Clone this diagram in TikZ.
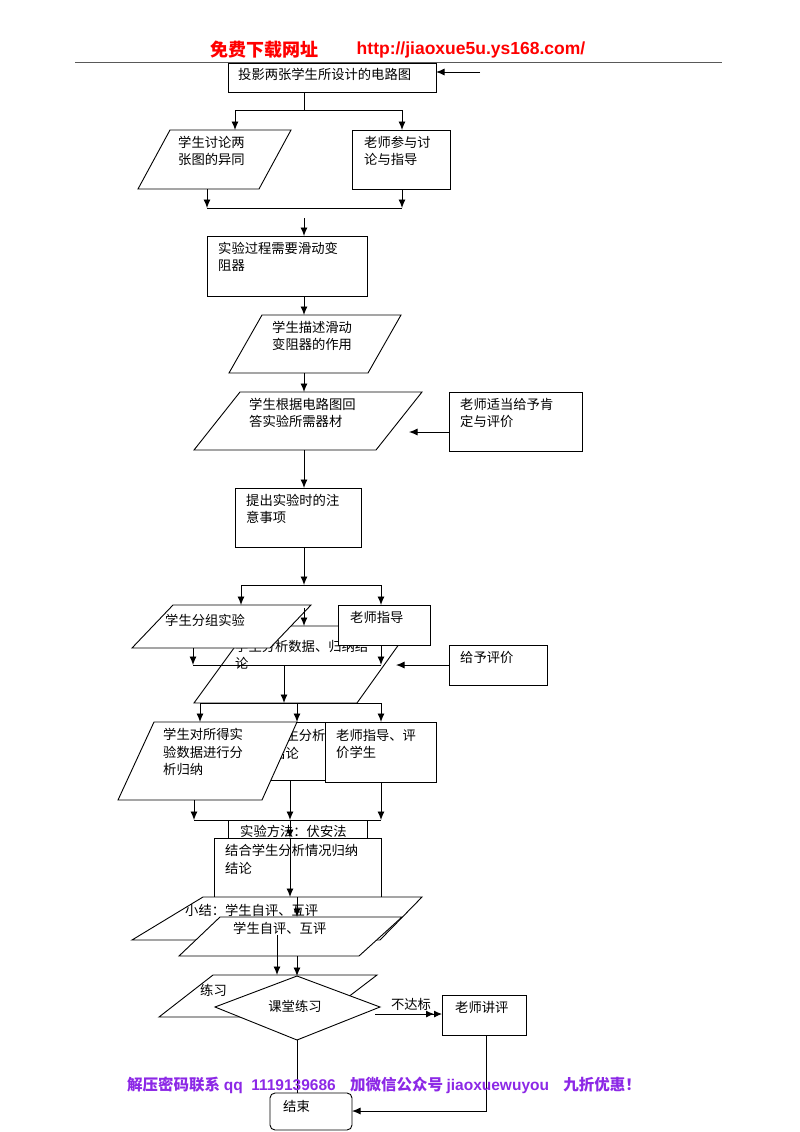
\documentclass[tikz,border=0pt]{standalone}
\usepackage{fontspec}
\newfontfamily\cjk{Noto Sans CJK SC}
\newfontfamily\lat{Liberation Sans}
\usetikzlibrary{arrows.meta}
\definecolor{footpurple}{RGB}{140,40,230}
\begin{document}
\begin{tikzpicture}[x=1pt,y=-1pt,
  shp/.style={draw=black,fill=white,line width=0.9pt},
  t/.style={anchor=north west,inner sep=0pt,align=left,font=\cjk\fontsize{13.3}{17.5}\selectfont},
  ar/.style={-{Latex[length=8.5pt,width=7pt]},line width=0.9pt},
  ln/.style={line width=0.9pt}]
\useasboundingbox (0,0) rectangle (800,1132);
% header
\node[font=\cjk\bfseries\fontsize{18}{20}\selectfont,text=red] (h1) at (264,50) {免费下载网址};
\node[font=\lat\bfseries\fontsize{17.5}{20}\selectfont,text=red] (h2) at (471,50) {http://jiaoxue5u.ys168.com/};
\draw[line width=0.8pt,gray!70!black] (75,62) -- (722,62);
% top
\draw[shp] (228,63) rectangle (436,92);
\node[t] (b1) at (238,68) {投影两张学生所设计的电路图};
\draw[shp] (170,130)--(291,130)--(259,189)--(138,189)--cycle;
\node[t] (p1) at (178,136) {学生讨论两\\张图的异同};
\draw[shp] (352,130) rectangle (450,189);
\node[t] (b2) at (364,136) {老师参与讨\\论与指导};
\draw[shp] (207,236) rectangle (367,296);
\node[t] (b3) at (218,242) {实验过程需要滑动变\\阻器};
\draw[shp] (262,315)--(401,315)--(368,373)--(229,373)--cycle;
\node[t] (p2) at (272,321) {学生描述滑动\\变阻器的作用};
\draw[shp] (240,392)--(422,392)--(376,450)--(194,450)--cycle;
\node[t] (p3) at (249,398) {学生根据电路图回\\答实验所需器材};
\draw[shp] (449,392) rectangle (582,451);
\node[t] (b4) at (460,398) {老师适当给予肯\\定与评价};
\draw[shp] (235,488) rectangle (361,547);
\node[t] (b5) at (246,494) {提出实验时的注\\意事项};
% middle overlapped
\draw[shp] (250,626)--(412,626)--(357,703)--(194,703)--cycle;
\node[t] (p4) at (235,640) {学生分析数据、归纳结\\论};
\draw[shp] (173,605)--(311,605)--(270,648)--(132,648)--cycle;
\node[t] (p5) at (165,614) {学生分组实验};
\draw[shp] (338,605) rectangle (430,645);
\node[t] (b6) at (350,611) {老师指导};
\draw[shp] (449,645) rectangle (547,685);
\node[t] (b7) at (460,651) {给予评价};
\draw[shp] (250,722) rectangle (330,780);
\node[t] (b8) at (272,729) {学生分析\\结论};
\draw[shp] (154,722)--(297,722)--(262,800)--(118,800)--cycle;
\node[t] (p6) at (163,728) {学生对所得实\\验数据进行分\\析归纳};
\draw[shp] (325,722) rectangle (436,782);
\node[t] (b9) at (336,729) {老师指导、评\\价学生};
% lower
\draw[shp] (228,820) rectangle (367,850);
\node[t] (b10) at (240,825) {实验方法：伏安法};
\draw[shp] (214,838) rectangle (381,897);
\node[t] (b11) at (225,844) {结合学生分析情况归纳\\结论};
\draw[shp] (203,897)--(422,897)--(380,940)--(132,940)--cycle;
\node[t] (p7) at (185,904) {小结：学生自评、互评};
\draw[shp] (220,917)--(402,917)--(359,956)--(179,956)--cycle;
\node[t] (p8) at (233,922) {学生自评、互评};
\draw[shp] (213,975)--(377,975)--(322,1017)--(159,1017)--cycle;
\node[t] (p9) at (200,984) {练习};
\draw[shp] (297,976)--(380,1007)--(297,1040)--(215,1007)--cycle;
\node[font=\cjk\fontsize{13.3}{15}\selectfont] (d1) at (295,1006) {课堂练习};
\draw[shp] (442,995) rectangle (526,1035);
\node[t] (b12) at (455,1001) {老师讲评};
\draw[shp,rounded corners=5pt] (270,1093) rectangle (352,1130);
\node[t] (e1) at (283,1100) {结束};
\node[font=\cjk\fontsize{13.3}{15}\selectfont] (l1) at (411,1004) {不达标};
% connectors
\coordinate (s0) at (480,72);
\draw[ar] (s0) -- (436,72);
\draw[ln] (304,92) -- (304,110);
\draw[ln] (235,110) -- (402,110);
\draw[ar] (235,110) -- (235,130);
\draw[ar] (402,110) -- (402,130);
\draw[ar] (207,189) -- (207,208);
\draw[ar] (402,189) -- (402,208);
\draw[ln] (207,208) -- (402,208);
\draw[ar] (304,218) -- (304,236);
\draw[ar] (304,296) -- (304,315);
\draw[ar] (304,373) -- (304,392);
\draw[ar] (449,432) -- (409,432);
\draw[ar] (304,450) -- (304,488);
\draw[ar] (304,547) -- (304,585);
\draw[ln] (241,585) -- (381,585);
\draw[ar] (241,585) -- (241,605);
\draw[ar] (381,585) -- (381,605);
\draw[ar] (304,608) -- (304,626);
\draw[ar] (193,648) -- (193,665);
\draw[ar] (381,645) -- (381,665);
\draw[ln] (193,665) -- (381,665);
\draw[ar] (284,665) -- (284,703);
\draw[ar] (449,665) -- (396,665);
\draw[ln] (200,703) -- (381,703);
\draw[ar] (200,703) -- (200,722);
\draw[ar] (297,703) -- (297,722);
\draw[ar] (381,703) -- (381,722);
\draw[ar] (194,800) -- (194,820);
\draw[ar] (290,780) -- (290,820);
\draw[ar] (381,782) -- (381,820);
\draw[ln] (194,820) -- (381,820);
\draw[ar] (290,820) -- (290,838);
\draw[ar] (290,838) -- (290,897);
\draw[ar] (297,897) -- (297,917);
\draw[ar] (277,935) -- (277,975);
\draw[ar] (297,956) -- (297,976);
\draw[ln,-{Latex[length=8pt,width=7pt]Latex[length=8pt,width=7pt]}] (375,1014) -- (442,1014);
\draw[ln] (297,1040) -- (297,1093);
\draw[ar] (486,1035) -- (486,1111) -- (352,1111);
% footer
\node[font=\cjk\bfseries\fontsize{15.5}{18}\selectfont,text=footpurple] (f1) at (384,1085) {解压密码联系 {\lat\bfseries qq\ \ 1119139686}\ \ \ \ 加微信公众号 {\lat\bfseries jiaoxuewuyou}\ \ \ \ 九折优惠！};
\end{tikzpicture}
\end{document}
